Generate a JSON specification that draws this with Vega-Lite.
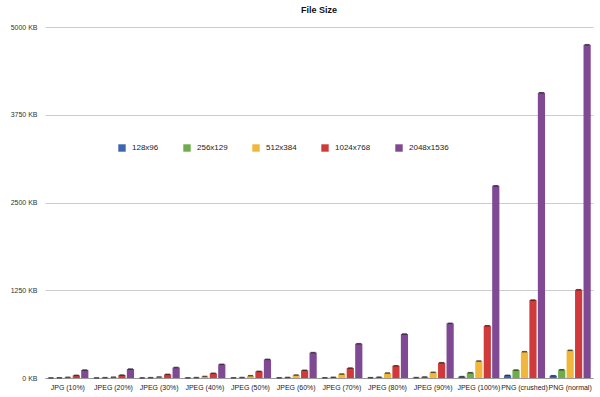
{
  "$schema": "https://vega.github.io/schema/vega-lite/v6.json",
  "width": 548,
  "height": 351,
  "autosize": {"type": "none"},
  "padding": {"left": 45, "top": 27, "right": 7, "bottom": 19},
  "background": "white",
  "title": {"text": "File Size", "fontSize": 9, "font": "Liberation Sans", "fontWeight": "bold", "color": "#111", "offset": 8, "anchor": "middle"},
  "config": {
    "view": {"stroke": null},
    "font": "Liberation Sans"
  },
  "data": {
    "values": [
      {"format": "JPG (10%)", "res": "128x96", "kb": 2},
      {"format": "JPG (10%)", "res": "256x129", "kb": 4},
      {"format": "JPG (10%)", "res": "512x384", "kb": 10},
      {"format": "JPG (10%)", "res": "1024x768", "kb": 38},
      {"format": "JPG (10%)", "res": "2048x1536", "kb": 114},
      {"format": "JPEG (20%)", "res": "128x96", "kb": 2},
      {"format": "JPEG (20%)", "res": "256x129", "kb": 5},
      {"format": "JPEG (20%)", "res": "512x384", "kb": 12},
      {"format": "JPEG (20%)", "res": "1024x768", "kb": 42},
      {"format": "JPEG (20%)", "res": "2048x1536", "kb": 128},
      {"format": "JPEG (30%)", "res": "128x96", "kb": 2},
      {"format": "JPEG (30%)", "res": "256x129", "kb": 5},
      {"format": "JPEG (30%)", "res": "512x384", "kb": 15},
      {"format": "JPEG (30%)", "res": "1024x768", "kb": 52},
      {"format": "JPEG (30%)", "res": "2048x1536", "kb": 150},
      {"format": "JPEG (40%)", "res": "128x96", "kb": 3},
      {"format": "JPEG (40%)", "res": "256x129", "kb": 6},
      {"format": "JPEG (40%)", "res": "512x384", "kb": 22},
      {"format": "JPEG (40%)", "res": "1024x768", "kb": 67},
      {"format": "JPEG (40%)", "res": "2048x1536", "kb": 195},
      {"format": "JPEG (50%)", "res": "128x96", "kb": 3},
      {"format": "JPEG (50%)", "res": "256x129", "kb": 7},
      {"format": "JPEG (50%)", "res": "512x384", "kb": 33},
      {"format": "JPEG (50%)", "res": "1024x768", "kb": 95},
      {"format": "JPEG (50%)", "res": "2048x1536", "kb": 266},
      {"format": "JPEG (60%)", "res": "128x96", "kb": 4},
      {"format": "JPEG (60%)", "res": "256x129", "kb": 8},
      {"format": "JPEG (60%)", "res": "512x384", "kb": 42},
      {"format": "JPEG (60%)", "res": "1024x768", "kb": 110},
      {"format": "JPEG (60%)", "res": "2048x1536", "kb": 362},
      {"format": "JPEG (70%)", "res": "128x96", "kb": 4},
      {"format": "JPEG (70%)", "res": "256x129", "kb": 10},
      {"format": "JPEG (70%)", "res": "512x384", "kb": 57},
      {"format": "JPEG (70%)", "res": "1024x768", "kb": 142},
      {"format": "JPEG (70%)", "res": "2048x1536", "kb": 489},
      {"format": "JPEG (80%)", "res": "128x96", "kb": 5},
      {"format": "JPEG (80%)", "res": "256x129", "kb": 12},
      {"format": "JPEG (80%)", "res": "512x384", "kb": 71},
      {"format": "JPEG (80%)", "res": "1024x768", "kb": 175},
      {"format": "JPEG (80%)", "res": "2048x1536", "kb": 627},
      {"format": "JPEG (90%)", "res": "128x96", "kb": 6},
      {"format": "JPEG (90%)", "res": "256x129", "kb": 15},
      {"format": "JPEG (90%)", "res": "512x384", "kb": 81},
      {"format": "JPEG (90%)", "res": "1024x768", "kb": 218},
      {"format": "JPEG (90%)", "res": "2048x1536", "kb": 779},
      {"format": "JPEG (100%)", "res": "128x96", "kb": 20},
      {"format": "JPEG (100%)", "res": "256x129", "kb": 76},
      {"format": "JPEG (100%)", "res": "512x384", "kb": 242},
      {"format": "JPEG (100%)", "res": "1024x768", "kb": 745},
      {"format": "JPEG (100%)", "res": "2048x1536", "kb": 2739},
      {"format": "PNG (crushed)", "res": "128x96", "kb": 38},
      {"format": "PNG (crushed)", "res": "256x129", "kb": 114},
      {"format": "PNG (crushed)", "res": "512x384", "kb": 375},
      {"format": "PNG (crushed)", "res": "1024x768", "kb": 1111},
      {"format": "PNG (crushed)", "res": "2048x1536", "kb": 4064},
      {"format": "PNG (normal)", "res": "128x96", "kb": 33},
      {"format": "PNG (normal)", "res": "256x129", "kb": 118},
      {"format": "PNG (normal)", "res": "512x384", "kb": 394},
      {"format": "PNG (normal)", "res": "1024x768", "kb": 1258},
      {"format": "PNG (normal)", "res": "2048x1536", "kb": 4748}
    ]
  },
  "encoding": {
    "x": {
      "field": "format", "type": "nominal", "sort": null,
      "scale": {"paddingInner": 0.1, "paddingOuter": 0.05},
      "axis": {"title": null, "labelAngle": 0, "labelFontSize": 7, "labelColor": "#222", "ticks": false, "domainColor": "#999", "labelPadding": 5, "labelFont": "Liberation Sans", "labelOverlap": false}
    },
    "xOffset": {"field": "res", "type": "nominal", "sort": ["128x96", "256x129", "512x384", "1024x768", "2048x1536"], "scale": {"paddingInner": 0.15}},
    "y": {
      "field": "kb", "type": "quantitative",
      "scale": {"domain": [0, 5000], "nice": false},
      "axis": {"title": null, "values": [0, 1250, 2500, 3750, 5000], "labelExpr": "datum.value + ' KB'", "labelFontSize": 7, "labelColor": "#333", "ticks": false, "domain": false, "gridColor": "#cccccc", "labelPadding": 8}
    }
  },
  "layer": [
    {
      "mark": {"type": "bar"},
      "encoding": {
        "color": {
          "field": "res", "type": "nominal",
          "sort": ["128x96", "256x129", "512x384", "1024x768", "2048x1536"],
          "scale": {"domain": ["128x96", "256x129", "512x384", "1024x768", "2048x1536"], "range": ["#3d65b0", "#6fad4b", "#f1b73c", "#d13a3a", "#7f4a93"]},
          "legend": {"title": null, "orient": "none", "direction": "horizontal", "legendX": 73, "legendY": 117, "symbolType": "square", "symbolSize": 55, "symbolStrokeWidth": 0, "labelFontSize": 8, "labelColor": "#222", "columnPadding": 24, "labelOffset": 6}
        }
      }
    },
    {
      "mark": {"type": "tick", "color": "#111", "thickness": 1.5, "size": 5},
      "encoding": {}
    }
  ]
}
